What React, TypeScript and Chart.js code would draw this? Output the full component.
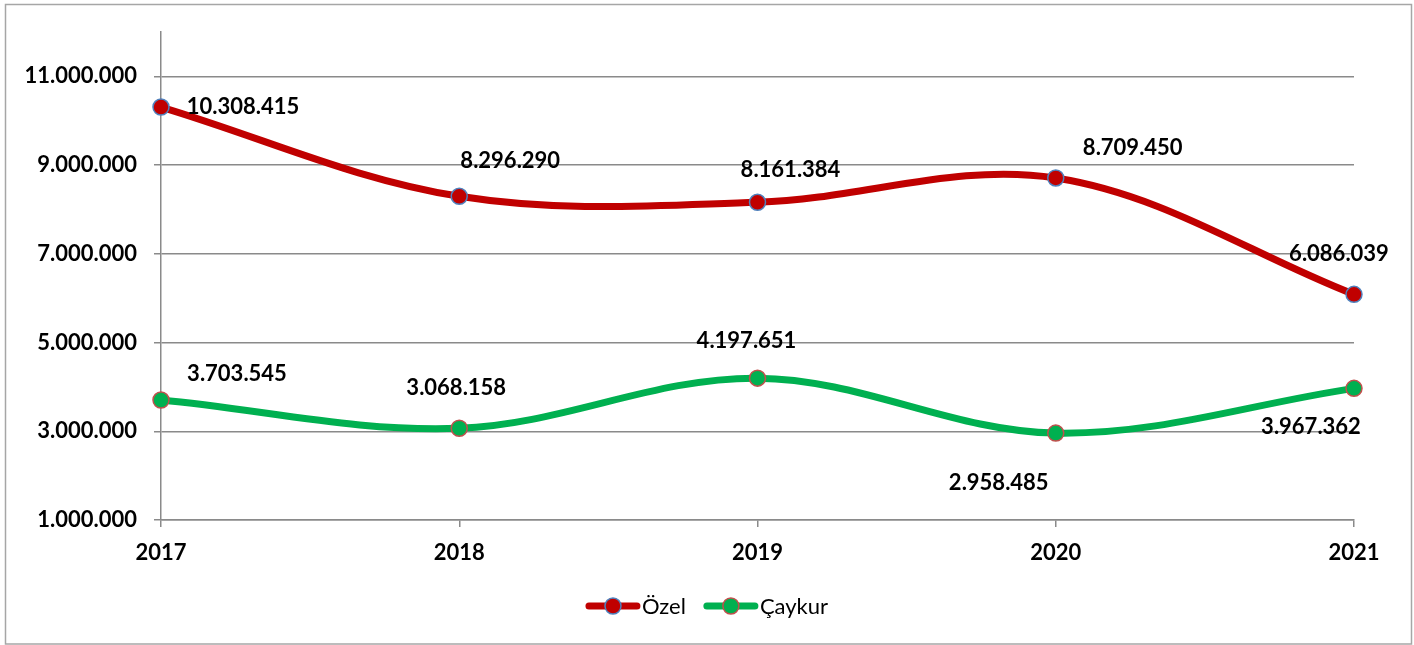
import React, { useEffect, useRef } from "react";
import { Chart, registerables } from "chart.js";

Chart.register(...registerables);

const years = ["2017", "2018", "2019", "2020", "2021"];
const ozel = [10308415, 8296290, 8161384, 8709450, 6086039];
const caykur = [3703545, 3068158, 4197651, 2958485, 3967362];
const yTickValues = [1000000, 3000000, 5000000, 7000000, 9000000, 11000000];
const seriesNames = ["Özel", "Çaykur"];

// label offsets (px) relative to each point
const ozelLabelOffsets = [
  [82, 0],
  [51, -35],
  [33, -32],
  [77, -30],
  [-15, -40],
];
const caykurLabelOffsets = [
  [76, -26],
  [-3, -40],
  [-11, -37],
  [-57, 50],
  [-43, 39],
];

const RED = "#C00000";
const GREEN = "#00B050";
const FONT = "Lato, 'Open Sans', sans-serif";

const fmt = (n: number) => String(Math.round(n)).replace(/\B(?=(\d{3})+(?!\d))/g, ".");

const framePlugin = {
  id: "frame",
  beforeDraw(chart: any) {
    const ctx = chart.ctx;
    ctx.save();
    ctx.fillStyle = "#ffffff";
    ctx.fillRect(0, 0, chart.width, chart.height);
    ctx.strokeStyle = "#a6a6a6";
    ctx.lineWidth = 1.5;
    ctx.strokeRect(5.5, 4.5, chart.width - 8, chart.height - 5.5);
    ctx.restore();
  },
};

const labelPlugin = {
  id: "pointLabels",
  afterDatasetsDraw(chart: any) {
    const ctx = chart.ctx;
    const offsets = [ozelLabelOffsets, caykurLabelOffsets];
    ctx.save();
    ctx.font = `bold 22px ${FONT}`;
    ctx.fillStyle = "#000000";
    ctx.textAlign = "center";
    ctx.textBaseline = "middle";
    chart.data.datasets.forEach((ds: any, di: number) => {
      const meta = chart.getDatasetMeta(di);
      meta.data.forEach((pt: any, i: number) => {
        const [dx, dy] = offsets[di][i];
        ctx.fillText(fmt(ds.data[i]), pt.x + dx, pt.y + dy);
      });
    });
    ctx.restore();
  },
};

const legendPlugin = {
  id: "customLegend",
  afterDraw(chart: any) {
    const ctx = chart.ctx;
    const items = [
      { text: seriesNames[0], color: RED, border: "#4F81BD" },
      { text: seriesNames[1], color: GREEN, border: "#C0504D" },
    ];
    ctx.save();
    ctx.font = `22px ${FONT}`;
    const lineLen = 54;
    const gap = 2;
    const spacing = 18;
    const widths = items.map((it) => lineLen + gap + ctx.measureText(it.text).width);
    const total = widths.reduce((a, b) => a + b, 0) + spacing * (items.length - 1);
    let x = chart.width / 2 - total / 2;
    const y = 606;
    items.forEach((it, i) => {
      ctx.strokeStyle = it.color;
      ctx.lineWidth = 7;
      ctx.lineCap = "round";
      ctx.beginPath();
      ctx.moveTo(x + 3, y);
      ctx.lineTo(x + lineLen - 3, y);
      ctx.stroke();
      ctx.beginPath();
      ctx.arc(x + lineLen / 2, y, 8, 0, Math.PI * 2);
      ctx.fillStyle = it.color;
      ctx.fill();
      ctx.lineWidth = 1.5;
      ctx.strokeStyle = it.border;
      ctx.stroke();
      ctx.fillStyle = "#000000";
      ctx.textAlign = "left";
      ctx.textBaseline = "middle";
      ctx.fillText(it.text, x + lineLen + gap, y + 1);
      x += widths[i] + spacing;
    });
    ctx.restore();
  },
};

export default function App() {
  const canvasRef = useRef<HTMLCanvasElement | null>(null);

  useEffect(() => {
    if (!canvasRef.current) return;
    const gridColor = "#8a8a8a";
    const chart = new Chart(canvasRef.current, {
      type: "line",
      data: {
        labels: years,
        datasets: [
          {
            label: seriesNames[0],
            data: ozel,
            borderColor: RED,
            backgroundColor: RED,
            borderWidth: 7,
            tension: 0.35,
            pointRadius: 8,
            pointBackgroundColor: RED,
            pointBorderColor: "#4F81BD",
            pointBorderWidth: 1.5,
            clip: false,
          },
          {
            label: seriesNames[1],
            data: caykur,
            borderColor: GREEN,
            backgroundColor: GREEN,
            borderWidth: 7,
            tension: 0.35,
            pointRadius: 8,
            pointBackgroundColor: GREEN,
            pointBorderColor: "#C0504D",
            pointBorderWidth: 1.5,
            clip: false,
          },
        ],
      },
      options: {
        responsive: false,
        animation: false,
        layout: { padding: { left: 0, top: 32, right: 60, bottom: 0 } },
        plugins: {
          legend: { display: false },
          tooltip: { enabled: false },
        },
        scales: {
          x: {
            offset: false,
            grid: {
              display: true,
              drawOnChartArea: false,
              drawTicks: true,
              tickLength: 7,
              color: gridColor,
              lineWidth: 1.5,
            },
            border: { display: true, color: gridColor, width: 1.5 },
            ticks: {
              padding: 13,
              color: "#000000",
              font: { family: FONT, size: 22, weight: "bold" },
              maxRotation: 0,
            },
            afterFit(scale: any) {
              scale.height = 645 - 520;
            },
          },
          y: {
            min: 1000000,
            max: 12000000,
            afterBuildTicks(scale: any) {
              scale.ticks = yTickValues.map((v) => ({ value: v }));
            },
            grid: {
              color: gridColor,
              lineWidth: 1.5,
              tickLength: 7,
            },
            border: { display: true, color: gridColor, width: 1.5 },
            ticks: {
              padding: 17,
              color: "#000000",
              font: { family: FONT, size: 22, weight: "bold" },
              callback: (v: any) => fmt(Number(v)),
            },
            afterFit(scale: any) {
              scale.width = 161;
            },
          },
        },
      },
      plugins: [framePlugin, labelPlugin, legendPlugin],
    } as any);
    return () => chart.destroy();
  }, []);

  return (
    <div style={{ position: "fixed", left: 0, top: 0, width: 1414, height: 645, background: "#fff" }}>
      <canvas ref={canvasRef} width={1414} height={645} />
    </div>
  );
}
